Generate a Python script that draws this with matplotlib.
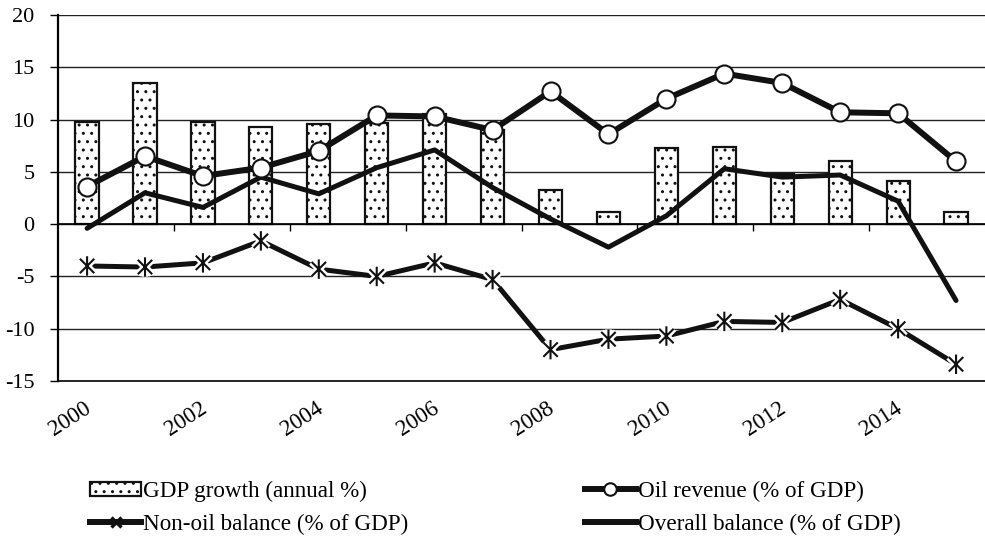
import matplotlib
matplotlib.use('Agg')
import matplotlib.pyplot as plt
import numpy as np
from matplotlib.path import Path
from matplotlib.lines import Line2D
import matplotlib.patheffects as pe

plt.rcParams['font.family'] = ['Liberation Serif', 'DejaVu Serif']
plt.rcParams['axes.unicode_minus'] = False
plt.rcParams['hatch.linewidth'] = 1.0

years = list(range(2000, 2016))
gdp_growth = [9.8, 13.5, 9.8, 9.3, 9.6, 9.7, 10.5, 9.0, 3.3, 1.2, 7.3, 7.4, 4.8, 6.0, 4.1, 1.2]
oil_revenue = [3.6, 6.5, 4.6, 5.4, 7.0, 10.4, 10.3, 9.0, 12.7, 8.6, 12.0, 14.4, 13.5, 10.7, 10.6, 6.0]
non_oil_balance = [-4.0, -4.1, -3.7, -1.6, -4.3, -5.0, -3.7, -5.3, -12.0, -11.0, -10.7, -9.3, -9.4, -7.2, -10.0, -13.4]
overall_balance = [-0.4, 3.0, 1.6, 4.5, 2.9, 5.4, 7.1, 3.5, 0.5, -2.2, 0.8, 5.3, 4.5, 4.7, 2.2, -7.3]
year_labels = [str(y) for y in years[::2]]

# star marker: X plus a vertical stroke
star = Path([(-1, -1), (1, 1), (-1, 1), (1, -1), (0, -1.35), (0, 1.35)],
            [Path.MOVETO, Path.LINETO, Path.MOVETO, Path.LINETO, Path.MOVETO, Path.LINETO])

x = np.arange(len(years))
k = '#111111'

fig = plt.figure(figsize=(9.85, 5.37), dpi=100)
ax = fig.add_axes([0.059, 0.2905, 0.941, 0.6815])

bars = ax.bar(x, gdp_growth, width=0.4, color='white', edgecolor=k,
              linewidth=1.6, hatch='..', zorder=2)

ax.plot(x, oil_revenue, color=k, lw=4.3, marker='o', ms=13,
        mfc='white', mec=k, mew=1.5, zorder=4)
ax.plot(x, overall_balance, color=k, lw=3.6, zorder=3, solid_capstyle='round')
ax.plot(x, non_oil_balance, color=k, lw=3.6, zorder=3)
ax.plot(x, non_oil_balance, ls='none', marker=star, ms=14, mec=k, mew=1.5,
        zorder=4, path_effects=[pe.Stroke(linewidth=5, foreground='white'), pe.Normal()])

ax.set_xlim(-0.5, len(years) - 0.5)
ax.set_ylim(-15, 20)
ax.set_yticks(np.arange(-15, 21, 5))
ax.yaxis.grid(True, color='#222222', lw=1.0, zorder=0)
ax.set_axisbelow(True)
ax.tick_params(axis='y', direction='out', length=6, width=1.0, pad=11, labelsize=16)

ax.spines['top'].set_visible(False)
ax.spines['right'].set_visible(False)
ax.spines['left'].set_linewidth(1.6)
ax.spines['bottom'].set_position(('data', 0))
ax.spines['bottom'].set_linewidth(1.2)
ax.set_xticks([])
ax.set_xticks(np.arange(1.5, 14, 2), minor=True)
ax.tick_params(axis='x', which='minor', direction='out', length=5, width=1.0)

sec = ax.secondary_xaxis('bottom')
sec.spines['bottom'].set_linewidth(1.2)
sec.set_xticks(x[::2] - 0.06)
sec.set_xticklabels(year_labels, rotation=33, ha='right', va='top',
                    rotation_mode='anchor', fontsize=16.5)
sec.tick_params(axis='x', length=0, pad=12)

# legend proxies with smaller markers
h_oil = Line2D([], [], color=k, lw=4.3, marker='o', ms=9, mfc='white', mec=k, mew=1.5)
h_non = Line2D([], [], color=k, lw=4.3, marker='x', ms=7, mew=2.4)
h_all = Line2D([], [], color=k, lw=4.3)
fig.legend([bars, h_non, h_oil, h_all],
           ['GDP growth (annual %)', 'Non-oil balance (% of GDP)',
            'Oil revenue (% of GDP)', 'Overall balance (% of GDP)'],
           ncol=2, loc='center left', bbox_to_anchor=(0.082, 0.054), frameon=False,
           fontsize=16.7, handlelength=2.2, handleheight=0.6, handletextpad=0.1,
           columnspacing=7.6, labelspacing=0.5, borderaxespad=0)

fig.savefig('out.png', dpi=100)
